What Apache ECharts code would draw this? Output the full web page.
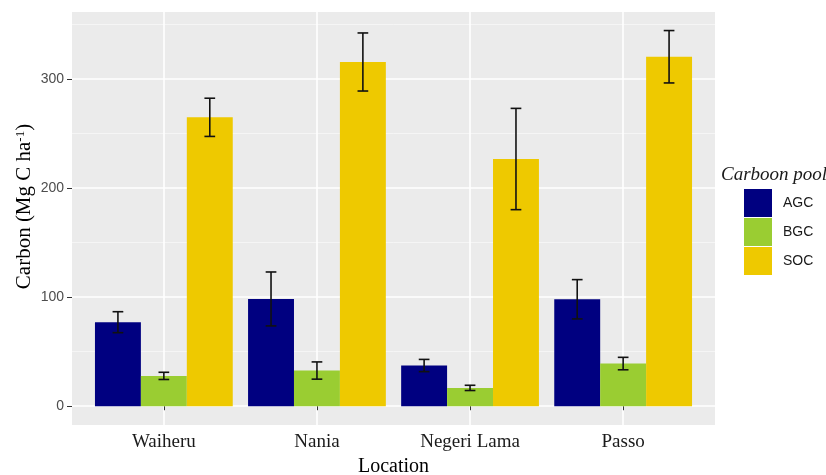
<!DOCTYPE html>
<html>
<head>
<meta charset="utf-8">
<script src="https://cdn.jsdelivr.net/npm/echarts@6/dist/echarts.min.js"></script>
<style>html,body{margin:0;padding:0;background:#fff;}#chart{width:826px;height:475px;}</style>
</head>
<body>
<div id="chart"></div>
<script>
const categories = ['Waiheru', 'Nania', 'Negeri Lama', 'Passo'];
const poolNames = ['AGC', 'BGC', 'SOC'];
const agcMean = [77.0, 98.3, 37.3, 98.0];
const agcErr  = [9.6, 24.7, 5.6, 18.0];
const bgcMean = [27.8, 32.7, 16.8, 39.1];
const bgcErr  = [3.3, 7.9, 2.4, 5.7];
const socMean = [264.7, 315.4, 226.5, 320.2];
const socErr  = [17.5, 26.6, 46.4, 24.0];
const yMajorTicks = [0, 100, 200, 300];
const yMinorTicks = [50, 150, 250, 350];
const colors = ['#000080', '#9ACD32', '#EEC900'];

const means = [agcMean, bgcMean, socMean];
const errs = [agcErr, bgcErr, socErr];
const catPos = categories.map((c, i) => i + 1);
const dodge = [-0.3, 0, 0.3];
const capWidth = 0.07;

const serif = '"Liberation Serif", "DejaVu Serif", serif';
const sans = '"Liberation Sans", Arial, sans-serif';

const barSeries = poolNames.map((name, k) => ({
  name: name,
  type: 'bar',
  data: catPos.map((x, i) => [x, means[k][i]]),
  itemStyle: { color: colors[k] },
  barGap: '0%',
  barCategoryGap: '10%',
  silent: true,
  z: 2
}));

const errSeries = poolNames.map((name, k) => ({
  type: 'custom',
  silent: true,
  z: 5,
  data: catPos.map((x, i) => [x, means[k][i] - errs[k][i], means[k][i] + errs[k][i]]),
  renderItem: function (params, api) {
    const x = api.value(0), lo = api.value(1), hi = api.value(2);
    const unit = api.size([1, 0])[0];
    const cx = api.coord([x, 0])[0] + dodge[k] * unit;
    const yLo = api.coord([x, lo])[1];
    const yHi = api.coord([x, hi])[1];
    const hw = capWidth * unit / 2;
    const style = { stroke: '#111', lineWidth: 1.6, fill: null };
    return {
      type: 'group',
      children: [
        { type: 'line', shape: { x1: cx, y1: yLo, x2: cx, y2: yHi }, style: style },
        { type: 'line', shape: { x1: cx - hw, y1: yLo, x2: cx + hw, y2: yLo }, style: style },
        { type: 'line', shape: { x1: cx - hw, y1: yHi, x2: cx + hw, y2: yHi }, style: style }
      ]
    };
  }
}));

const chart = echarts.init(document.getElementById('chart'), null, { renderer: 'canvas' });
chart.setOption({
  animation: false,
  backgroundColor: '#ffffff',
  title: {
    text: 'Carboon pool',
    left: 721,
    top: 165,
    padding: 0,
    textStyle: { fontFamily: serif, fontStyle: 'italic', fontWeight: 'normal', fontSize: 19, color: '#1a1a1a' }
  },
  legend: {
    data: poolNames,
    orient: 'vertical',
    left: 744,
    top: 189,
    padding: 0,
    itemWidth: 28,
    itemHeight: 28,
    itemGap: 1,
    icon: 'rect',
    selectedMode: false,
    textStyle: { fontFamily: sans, fontSize: 14, color: '#1a1a1a', padding: [0, 0, 0, 6] }
  },
  grid: {
    left: 72, right: 111, top: 12, bottom: 50,
    outerBoundsMode: 'none',
    containLabel: false,
    show: true, backgroundColor: '#EBEBEB', borderWidth: 0
  },
  xAxis: {
    type: 'value',
    min: 0.4,
    max: 4.6,
    name: 'Location',
    nameLocation: 'middle',
    nameGap: 32,
    nameTextStyle: { fontFamily: serif, fontSize: 20, color: '#000' },
    axisLine: { show: false },
    axisTick: { show: true, length: 4, lineStyle: { color: '#333', width: 1 }, customValues: catPos },
    axisLabel: {
      customValues: catPos,
      margin: 8,
      fontFamily: serif, fontSize: 19, color: '#1a1a1a',
      formatter: function (v) { return categories[Math.round(v) - 1] || ''; }
    },
    splitLine: { show: true, lineStyle: { color: '#ffffff', width: 1.6 } }
  },
  yAxis: [{
    type: 'value',
    min: -17.2,
    max: 361.2,
    name: 'Carbon (Mg C ha{sup|-1})',
    nameLocation: 'middle',
    nameGap: 37,
    nameMoveOverlap: false,
    nameTextStyle: {
      fontFamily: serif, fontSize: 21, color: '#000',
      padding: [0, 0, 0, 24],
      rich: { sup: { fontFamily: serif, fontSize: 13, color: '#000', verticalAlign: 'top', padding: [0, 0, 8, 0] } }
    },
    axisLine: { show: false },
    axisTick: { show: true, length: 5, lineStyle: { color: '#333', width: 1 }, customValues: yMajorTicks },
    axisLabel: { customValues: yMajorTicks, margin: 8, fontFamily: sans, fontSize: 14, color: '#4D4D4D' },
    splitLine: { show: true, lineStyle: { color: '#ffffff', width: 1.6 } }
  }, {
    type: 'value',
    position: 'left',
    min: -17.2,
    max: 361.2,
    axisLine: { show: false },
    axisTick: { show: false, customValues: yMinorTicks },
    axisLabel: { show: false, customValues: yMinorTicks },
    splitLine: { show: true, lineStyle: { color: '#F7F7F7', width: 0.8 } }
  }],
  series: barSeries.concat(errSeries)
});
</script>
</body>
</html>
